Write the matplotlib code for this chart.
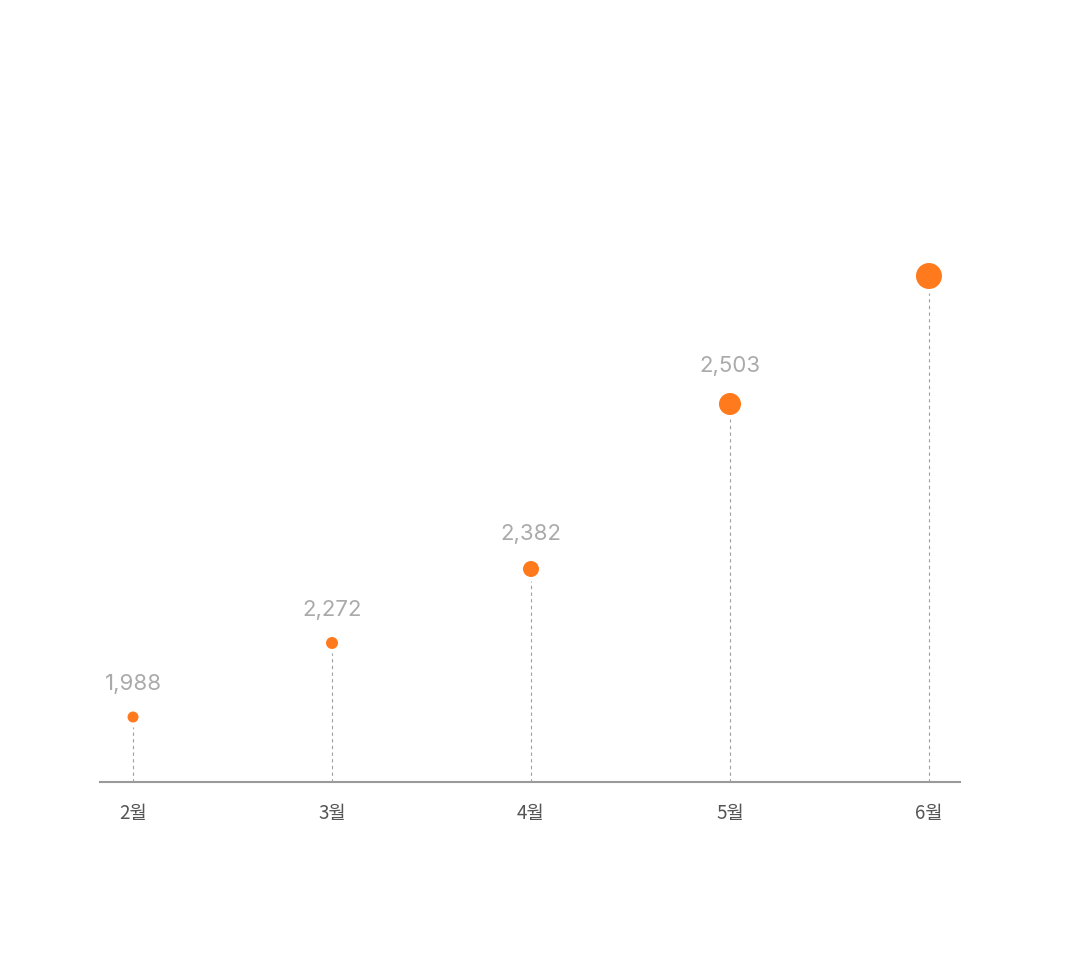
import matplotlib.pyplot as plt

plt.rcParams['font.family'] = ['Noto Sans CJK KR', 'DejaVu Sans']

months = ["2월", "3월", "4월", "5월", "6월"]
counts = [1988, 2272, 2382, 2503, None]   # 6월 has no label in the chart
heights = [65, 139, 213, 378, 506]         # plotted height above baseline (px units)
dot_px = [11, 12, 16, 22, 26]              # dot diameters

W, H = 1068, 965
fig = plt.figure(figsize=(W / 100, H / 100), dpi=100)
base = 782
ax = fig.add_axes([100 / W, (H - base) / H, 860 / W, base / H])
ax.set_xlim(-0.166, 4.156)
ax.set_ylim(0, base)
ax.axis('off')

orange = '#ff7a1c'
x = list(range(len(months)))

ax.axhline(0, color='#9a9a9a', lw=1.5, clip_on=False, zorder=1)

for i in x:
    r = dot_px[i] / 2
    ax.vlines(i, 0, heights[i] - r - 4, colors='#a0a0a0', lw=0.8,
              linestyles=(0, (3, 3)), zorder=1)
    ax.scatter(i, heights[i], s=(dot_px[i] * 0.72) ** 2, color=orange,
               edgecolors='none', zorder=3)
    if counts[i] is not None:
        ax.annotate(f"{counts[i]:,}", (i, heights[i]),
                    xytext=(0, (r + 21) * 0.72), textcoords='offset points',
                    ha='center', va='baseline', fontsize=16, color='#aaaaaa',
                    family=['Inter', 'DejaVu Sans'])
    ax.text(i, -31, months[i], ha='center', va='center', fontsize=13.5,
            color='#555555', clip_on=False, fontweight='light')

fig.savefig("out.png", dpi=100, facecolor='white')
